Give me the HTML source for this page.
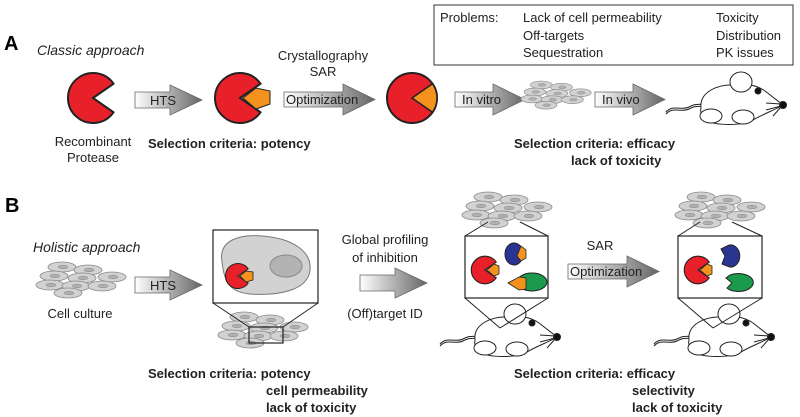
<!DOCTYPE html>
<html><head><meta charset="utf-8"><style>
html,body{margin:0;padding:0;background:#fff;}
svg{display:block;font-family:"Liberation Sans",Arial,sans-serif;}
</style></head><body>
<svg width="800" height="417" viewBox="0 0 800 417" xmlns="http://www.w3.org/2000/svg">
<defs>
<linearGradient id="ag" x1="0" y1="0" x2="1" y2="0">
<stop offset="0" stop-color="#ffffff"/><stop offset="1" stop-color="#666"/>
</linearGradient>
<g id="cell"><ellipse cx="0" cy="0" rx="14" ry="5" fill="#d2d2d2" stroke="#888" stroke-width="0.8"/><ellipse cx="1" cy="0" rx="5" ry="1.8" fill="#b0b0b0" stroke="#888" stroke-width="0.5"/></g>
<g id="cluster">
<use href="#cell" x="26" y="5"/><use href="#cell" x="52" y="8"/>
<use href="#cell" x="18" y="14"/><use href="#cell" x="46" y="16"/><use href="#cell" x="76" y="15"/>
<use href="#cell" x="14" y="23"/><use href="#cell" x="40" y="24"/><use href="#cell" x="66" y="24"/>
<use href="#cell" x="32" y="31"/>
</g>
<g id="mouse" fill="#fff" stroke="#222" stroke-width="1">
<path d="M3,42 C10,34 18,41 26,37 S34,35 40,34" fill="none"/>
<path d="M3,44 C10,36 18,43 26,39 S34,37 40,36" fill="none"/>
<path d="M38,38 C36,22 55,14 72,15 C82,14 92,14 102,21 L120,35 C112,40 100,44 90,50 C80,56 52,56 43,50 C38,46 37,42 38,38Z"/>
<ellipse cx="78" cy="12" rx="11" ry="10"/>
<ellipse cx="48" cy="46" rx="11" ry="7"/>
<ellipse cx="80" cy="47" rx="11" ry="7"/>
<circle cx="95" cy="21" r="3" fill="#111"/>
<circle cx="120" cy="35" r="3.5" fill="#111"/>
<path d="M103,33 L118,34 M103,40 L118,36 M110,46 L118,37" fill="none"/>
</g>
<path id="pac" d="M0,0 L20.5,-14.3 A25,25 0 1,0 20.5,14.3 Z" fill="#e8202a" stroke="#222" stroke-width="2"/>
</defs>

<!-- Panel A -->
<text x="4" y="50" font-size="20" font-weight="bold">A</text>
<text x="37" y="55" font-size="14" font-style="italic" fill="#222">Classic approach</text>

<use href="#pac" x="93" y="98"/>
<text x="93" y="146" font-size="13" text-anchor="middle" fill="#222">Recombinant</text>
<text x="93" y="162" font-size="13" text-anchor="middle" fill="#222">Protease</text>

<path d="M135,92 H170 V85 L202,100 L170,115 V108 H135 Z" fill="url(#ag)" stroke="#666" stroke-width="0.8"/>
<text x="150" y="105" font-size="13" fill="#222">HTS</text>

<use href="#pac" x="240" y="98"/>
<path d="M243,98 L256,88 L270,91 L270,104 L256,109 Z" fill="#f5921e" stroke="#222" stroke-width="1"/>
<text x="148" y="148" font-size="13" font-weight="bold" fill="#222">Selection criteria: potency</text>

<text x="323" y="60" font-size="13" text-anchor="middle" fill="#222">Crystallography</text>
<text x="323" y="76" font-size="13" text-anchor="middle" fill="#222">SAR</text>
<path d="M284,92 H343 V84 L375,99.5 L343,115 V107 H284 Z" fill="url(#ag)" stroke="#666" stroke-width="0.8"/>
<text x="286" y="104" font-size="13" fill="#222">Optimization</text>

<circle cx="412" cy="98" r="25" fill="#e8202a" stroke="#222" stroke-width="2"/>
<path d="M412,98 L432.5,83.7 A25,25 0 0,1 432.5,112.3 Z" fill="#f5921e" stroke="#222" stroke-width="1.5"/>

<rect x="434" y="5" width="359" height="60" fill="#fff" stroke="#333" stroke-width="1"/>
<g font-size="13" fill="#222">
<text x="440" y="22">Problems:</text>
<text x="523" y="22">Lack of cell permeability</text>
<text x="523" y="40">Off-targets</text>
<text x="523" y="57">Sequestration</text>
<text x="716" y="22">Toxicity</text>
<text x="716" y="40">Distribution</text>
<text x="716" y="57">PK issues</text>
</g>

<path d="M455,92 H493 V84 L525,99.5 L493,115 V107 H455 Z" fill="url(#ag)" stroke="#666" stroke-width="0.8"/>
<text x="462" y="104" font-size="13" fill="#222">In vitro</text>
<g transform="translate(521,81) scale(0.78)"><use href="#cluster"/></g>
<path d="M595,92 H633 V84 L665,99.5 L633,115 V107 H595 Z" fill="url(#ag)" stroke="#666" stroke-width="0.8"/>
<text x="602" y="104" font-size="13" fill="#222">In vivo</text>
<use href="#mouse" x="663" y="70"/>

<text x="514" y="148" font-size="13" font-weight="bold" fill="#222">Selection criteria: efficacy</text>
<text x="571" y="165" font-size="13" font-weight="bold" fill="#222">lack of toxicity</text>

<!-- Panel B -->
<text x="5" y="212" font-size="20" font-weight="bold">B</text>
<text x="33" y="252" font-size="14" font-style="italic" fill="#222">Holistic approach</text>
<use href="#cluster" x="36" y="262"/>
<text x="80" y="318" font-size="13" text-anchor="middle" fill="#222">Cell culture</text>
<path d="M135,277 H170 V270 L202,285 L170,300 V293 H135 Z" fill="url(#ag)" stroke="#666" stroke-width="0.8"/>
<text x="150" y="290" font-size="13" fill="#222">HTS</text>

<!-- box 1 -->
<use href="#cluster" x="218" y="312"/>
<rect x="249" y="327" width="34" height="16" fill="none" stroke="#222" stroke-width="1.2"/>
<line x1="213" y1="303" x2="249" y2="327" stroke="#222"/>
<line x1="318" y1="303" x2="283" y2="327" stroke="#222"/>
<rect x="213" y="230" width="105" height="73" fill="#fff" stroke="#222" stroke-width="1.2"/>
<path d="M222,262 C218,240 240,234 262,236 C290,238 312,250 310,270 C308,290 280,296 250,294 C228,292 224,280 222,262Z" fill="#d2d2d2" stroke="#777"/>
<ellipse cx="286" cy="266" rx="16" ry="11" fill="#b3b3b3" stroke="#888"/>
<g transform="translate(238,276) scale(0.5)"><use href="#pac"/></g>
<path d="M240,276 L246,271 L253,272 L253,280 L246,282 Z" fill="#f5921e" stroke="#222" stroke-width="0.8"/>

<text x="148" y="378" font-size="13" font-weight="bold" fill="#222">Selection criteria: potency</text>
<text x="266" y="395" font-size="13" font-weight="bold" fill="#222">cell permeability</text>
<text x="266" y="412" font-size="13" font-weight="bold" fill="#222">lack of toxicity</text>

<text x="385" y="244" font-size="13" text-anchor="middle" fill="#222">Global profiling</text>
<text x="385" y="262" font-size="13" text-anchor="middle" fill="#222">of inhibition</text>
<path d="M360,275 H395 V268 L427,283 L395,298 V291 H360 Z" fill="url(#ag)" stroke="#666" stroke-width="0.8"/>
<text x="385" y="318" font-size="13" text-anchor="middle" fill="#222">(Off)target ID</text>

<!-- box 2 -->
<use href="#cluster" x="462" y="192"/>
<use href="#mouse" x="437" y="302"/>
<line x1="465" y1="236" x2="488" y2="222" stroke="#222"/>
<line x1="548" y1="236" x2="520" y2="222" stroke="#222"/>
<line x1="465" y1="298" x2="500" y2="328" stroke="#222"/>
<line x1="548" y1="298" x2="500" y2="328" stroke="#222"/>
<rect x="465" y="236" width="83" height="62" fill="#fff" stroke="#222" stroke-width="1.2"/>
<g transform="translate(485,270) scale(0.55)"><use href="#pac"/></g>
<path d="M487,270 L494,264 L499,266 L499,274 L494,276 Z" fill="#f5921e" stroke="#222" stroke-width="0.8"/>
<ellipse cx="514" cy="254" rx="9" ry="11" fill="#2a3592" stroke="#222" stroke-width="1"/>
<path d="M517,256 L521,246 L526,250 L526,258 L521,261 Z" fill="#f5921e" stroke="#222" stroke-width="0.8"/>
<ellipse cx="532" cy="282" rx="15" ry="9" fill="#1a9a4a" stroke="#222" stroke-width="1"/>
<path d="M508,283 L519,277 L526,278 L526,289 L519,290 Z" fill="#f5921e" stroke="#222" stroke-width="0.8"/>

<text x="600" y="250" font-size="13" text-anchor="middle" fill="#222">SAR</text>
<path d="M568,264 H627 V256 L659,271.5 L627,287 V279 H568 Z" fill="url(#ag)" stroke="#666" stroke-width="0.8"/>
<text x="570" y="276" font-size="13" fill="#222">Optimization</text>

<!-- box 3 -->
<use href="#cluster" x="675" y="192"/>
<use href="#mouse" x="651" y="302"/>
<line x1="678" y1="236" x2="700" y2="222" stroke="#222"/>
<line x1="762" y1="236" x2="732" y2="222" stroke="#222"/>
<line x1="678" y1="298" x2="713" y2="328" stroke="#222"/>
<line x1="762" y1="298" x2="713" y2="328" stroke="#222"/>
<rect x="678" y="236" width="84" height="62" fill="#fff" stroke="#222" stroke-width="1.2"/>
<g transform="translate(698,270) scale(0.55)"><use href="#pac"/></g>
<path d="M700,270 L707,264 L712,266 L712,274 L707,276 Z" fill="#f5921e" stroke="#222" stroke-width="0.8"/>
<path d="M727,246 A9,11 0 1,1 727,266 L722,264 L725,256 L721,249 Z" fill="#2a3592" stroke="#222" stroke-width="1"/>
<path d="M730,275 A15,9 0 1,1 730,290 L727,288 L732,283 L726,278 Z" fill="#1a9a4a" stroke="#222" stroke-width="1"/>

<text x="514" y="378" font-size="13" font-weight="bold" fill="#222">Selection criteria: efficacy</text>
<text x="632" y="395" font-size="13" font-weight="bold" fill="#222">selectivity</text>
<text x="632" y="412" font-size="13" font-weight="bold" fill="#222">lack of toxicity</text>
</svg>
</body></html>
